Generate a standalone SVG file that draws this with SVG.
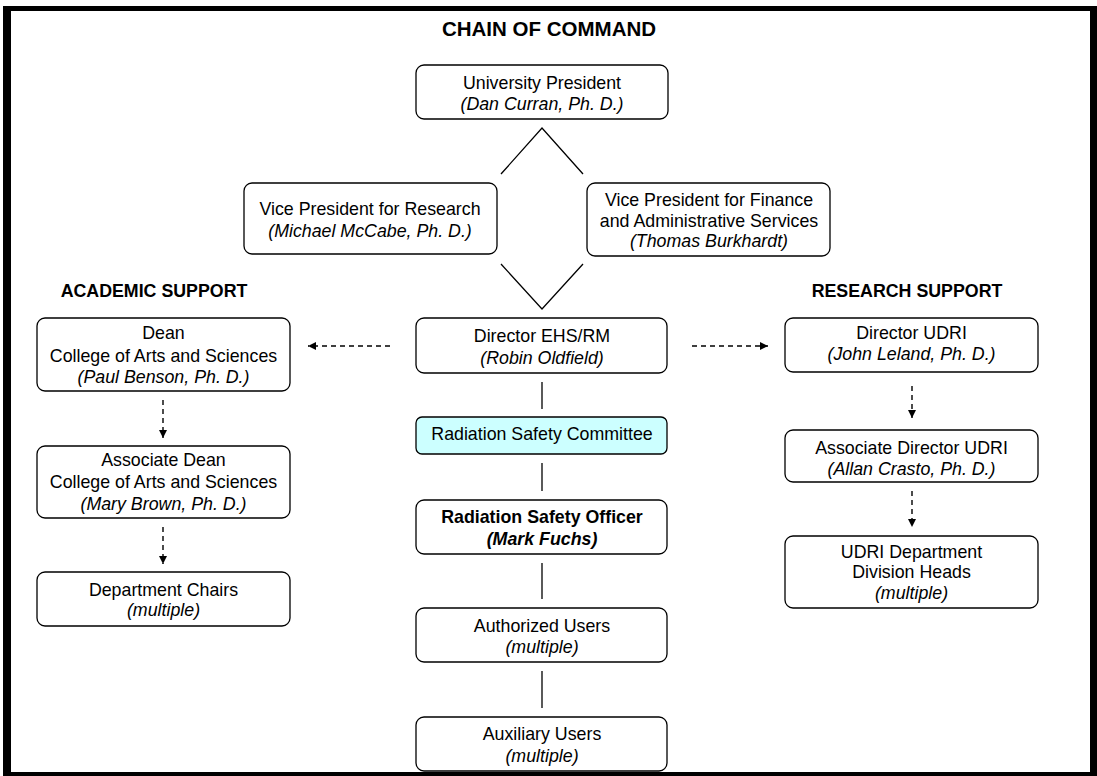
<svg xmlns="http://www.w3.org/2000/svg" width="1097" height="776" viewBox="0 0 1097 776">
<defs>
<style>
text{font-family:"Liberation Sans",Arial,Helvetica,sans-serif;font-size:17.8px;fill:#000;text-anchor:middle}
.b{font-weight:bold}
.i{font-style:italic}
.box{fill:#fff;stroke:#000;stroke-width:1.3}
.cyan{fill:#ccffff}
.ln{stroke:#000;stroke-width:1.3;fill:none}
.dash{stroke:#000;stroke-width:1.4;fill:none;stroke-dasharray:5 4}
</style>
<marker id="ah" viewBox="0 0 10 10" refX="10" refY="5" markerWidth="8" markerHeight="8" markerUnits="userSpaceOnUse" orient="auto">
<path d="M0,0 L10,5 L0,10 Z" fill="#000"/>
</marker>
</defs>
<rect width="1097" height="776" fill="#fff"/>
<path d="M3,6 H1097 V776 H3 Z M11,11 V772 H1090 V11 Z" fill="#000" fill-rule="evenodd"/>
<text class="b" x="549" y="36" style="font-size:20.5px">CHAIN OF COMMAND</text>
<text class="b" x="154" y="297">ACADEMIC SUPPORT</text>
<text class="b" x="907" y="297">RESEARCH SUPPORT</text>

<g id="connectors">
<path class="ln" d="M501,174 L542,128 L583,174"/>
<path class="ln" d="M501,264 L542,309 L583,264"/>
<line class="ln" x1="542" y1="382" x2="542" y2="409"/>
<line class="ln" x1="542" y1="463" x2="542" y2="491"/>
<line class="ln" x1="542" y1="563" x2="542" y2="599"/>
<line class="ln" x1="542" y1="671" x2="542" y2="708"/>
<line class="dash" x1="390" y1="346" x2="308" y2="346" marker-end="url(#ah)"/>
<line class="dash" x1="692" y1="346" x2="768" y2="346" marker-end="url(#ah)"/>
<line class="dash" x1="163" y1="400" x2="163" y2="438" marker-end="url(#ah)"/>
<line class="dash" x1="163" y1="527" x2="163" y2="564" marker-end="url(#ah)"/>
<line class="dash" x1="912" y1="386" x2="912" y2="418" marker-end="url(#ah)"/>
<line class="dash" x1="912" y1="491" x2="912" y2="527" marker-end="url(#ah)"/>
</g>

<g id="president">
<rect class="box" x="416" y="65" width="252" height="54" rx="8"/>
<text x="542" y="89">University President</text>
<text class="i" x="542" y="110">(Dan Curran, Ph. D.)</text>
</g>
<g id="vp-research">
<rect class="box" x="244" y="183" width="253" height="71" rx="8"/>
<text x="370" y="215">Vice President for Research</text>
<text class="i" x="370" y="237">(Michael McCabe, Ph. D.)</text>
</g>
<g id="vp-finance">
<rect class="box" x="587" y="183" width="243" height="73" rx="8"/>
<text x="709" y="206">Vice President for Finance</text>
<text x="709" y="227">and Administrative Services</text>
<text class="i" x="709" y="247">(Thomas Burkhardt)</text>
</g>
<g id="director-ehs">
<rect class="box" x="416" y="318" width="251" height="55" rx="8"/>
<text x="542" y="342">Director EHS/RM</text>
<text class="i" x="542" y="364">(Robin Oldfield)</text>
</g>
<g id="rsc">
<rect class="box cyan" x="416" y="417" width="251" height="37" rx="6"/>
<text x="542" y="440">Radiation Safety Committee</text>
</g>
<g id="rso">
<rect class="box" x="416" y="500" width="251" height="54" rx="8"/>
<text class="b" x="542" y="523">Radiation Safety Officer</text>
<text class="b i" x="542" y="545">(Mark Fuchs)</text>
</g>
<g id="authorized-users">
<rect class="box" x="416" y="608" width="251" height="54" rx="8"/>
<text x="542" y="632">Authorized Users</text>
<text class="i" x="542" y="653">(multiple)</text>
</g>
<g id="auxiliary-users">
<rect class="box" x="416" y="717" width="251" height="54" rx="8"/>
<text x="542" y="740">Auxiliary Users</text>
<text class="i" x="542" y="762">(multiple)</text>
</g>
<g id="dean">
<rect class="box" x="37" y="318" width="253" height="73" rx="8"/>
<text x="163.5" y="339">Dean</text>
<text x="163.5" y="362">College of Arts and Sciences</text>
<text class="i" x="163.5" y="383">(Paul Benson, Ph. D.)</text>
</g>
<g id="associate-dean">
<rect class="box" x="37" y="446" width="253" height="72" rx="8"/>
<text x="163.5" y="466">Associate Dean</text>
<text x="163.5" y="488">College of Arts and Sciences</text>
<text class="i" x="163.5" y="510">(Mary Brown, Ph. D.)</text>
</g>
<g id="department-chairs">
<rect class="box" x="37" y="572" width="253" height="54" rx="8"/>
<text x="163.5" y="596">Department Chairs</text>
<text class="i" x="163.5" y="616">(multiple)</text>
</g>
<g id="director-udri">
<rect class="box" x="785" y="318" width="253" height="54" rx="8"/>
<text x="911.5" y="339">Director UDRI</text>
<text class="i" x="911.5" y="360">(John Leland, Ph. D.)</text>
</g>
<g id="associate-director-udri">
<rect class="box" x="785" y="430" width="253" height="52" rx="8"/>
<text x="911.5" y="454">Associate Director UDRI</text>
<text class="i" x="911.5" y="475">(Allan Crasto, Ph. D.)</text>
</g>
<g id="udri-division-heads">
<rect class="box" x="785" y="536" width="253" height="72" rx="8"/>
<text x="911.5" y="558">UDRI Department</text>
<text x="911.5" y="578">Division Heads</text>
<text class="i" x="911.5" y="599">(multiple)</text>
</g>
</svg>
